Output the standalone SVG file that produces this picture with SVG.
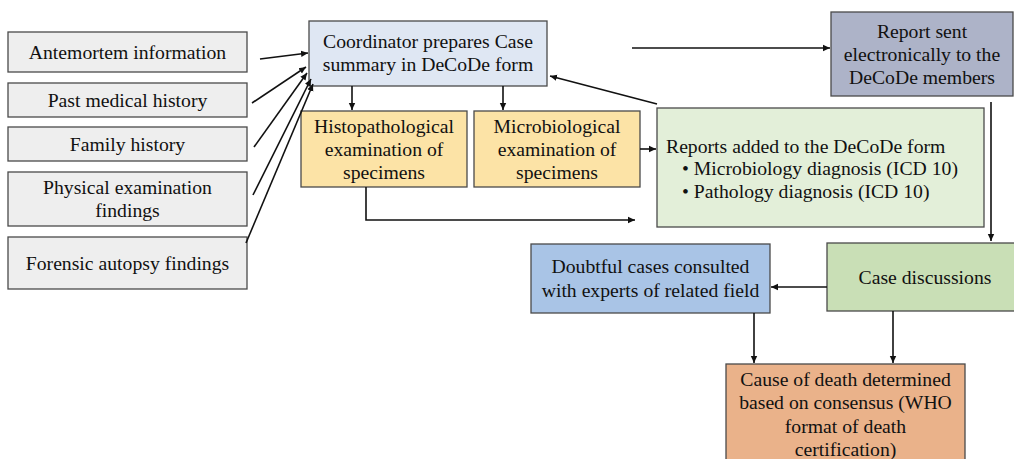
<svg xmlns="http://www.w3.org/2000/svg" width="1014" height="459" viewBox="0 0 1014 459">
<defs>
<marker id="ah" markerWidth="8" markerHeight="8" refX="7" refY="4" orient="auto" markerUnits="userSpaceOnUse">
<path d="M0,0.8 L7,4 L0,7.2 Z" fill="#111"/>
</marker>
</defs>
<style>
rect{stroke:#4a4a4a;stroke-width:1.3}
text{font-family:"Liberation Serif","Times New Roman",serif;font-size:19.7px;fill:#111;text-anchor:middle}
.l{text-anchor:start}
.c line,.c path,.c polyline{stroke:#111;stroke-width:1.6;fill:none;marker-end:url(#ah)}
.g{fill:#eeeeee}
</style>
<rect width="1014" height="459" fill="#fff" style="stroke:none"/>
<g id="n-antemortem"><rect class="g" x="8" y="32" width="239" height="40"/><text x="127.5" y="59">Antemortem information</text></g>
<g id="n-past"><rect class="g" x="8" y="83" width="239" height="34"/><text x="127.5" y="107">Past medical history</text></g>
<g id="n-family"><rect class="g" x="8" y="127" width="239" height="34"/><text x="127.5" y="151">Family history</text></g>
<g id="n-physical"><rect class="g" x="8" y="172" width="239" height="54"/><text x="127.5" y="194">Physical examination</text><text x="127.5" y="217">findings</text></g>
<g id="n-forensic"><rect class="g" x="8" y="237" width="239" height="52"/><text x="127.5" y="270">Forensic autopsy findings</text></g>
<g id="n-coord"><rect x="309" y="21" width="238" height="65" fill="#dfe7f3"/><text x="428" y="48">Coordinator prepares Case</text><text x="428" y="71">summary in DeCoDe form</text></g>
<g id="n-histo"><rect x="301" y="111" width="166" height="76" fill="#fce3a6"/><text x="384" y="133">Histopathological</text><text x="384" y="156">examination of</text><text x="384" y="179">specimens</text></g>
<g id="n-micro"><rect x="474" y="111" width="166" height="76" fill="#fce3a6"/><text x="557" y="133">Microbiological</text><text x="557" y="156">examination of</text><text x="557" y="179">specimens</text></g>
<g id="n-reports"><rect x="657" y="108" width="327" height="119" fill="#e3efd9"/><text class="l" x="666" y="153">Reports added to the DeCoDe form</text><text class="l" x="682" y="175">• Microbiology diagnosis (ICD 10)</text><text class="l" x="682" y="198">• Pathology diagnosis (ICD 10)</text></g>
<g id="n-sent"><rect x="831" y="12" width="182" height="84" fill="#adb3c8"/><text x="922" y="38">Report sent</text><text x="922" y="61">electronically to the</text><text x="922" y="84">DeCoDe members</text></g>
<g id="n-case"><rect x="827" y="243" width="190" height="68" fill="#c9dfb6"/><text x="925" y="284">Case discussions</text></g>
<g id="n-doubt"><rect x="531" y="244" width="239" height="69" fill="#a9c4e6"/><text x="650.5" y="273">Doubtful cases consulted</text><text x="650.5" y="297">with experts of related field</text></g>
<g id="n-cause"><rect x="726" y="364" width="239" height="100" fill="#eab28a"/><text x="845.5" y="386">Cause of death determined</text><text x="845.5" y="409">based on consensus (WHO</text><text x="845.5" y="433">format of death</text><text x="845.5" y="456">certification)</text></g>
<g id="connectors" class="c">
<line x1="260" y1="59" x2="308" y2="53"/>
<line x1="252" y1="103" x2="306" y2="67"/>
<line x1="254" y1="147" x2="307" y2="73"/>
<line x1="253" y1="195" x2="311" y2="79"/>
<line x1="246" y1="243" x2="313" y2="84"/>
<line x1="352" y1="86" x2="352" y2="110"/>
<line x1="503" y1="86" x2="503" y2="110"/>
<polyline points="366,187 366,220 635,220"/>
<line x1="640" y1="149" x2="656" y2="149"/>
<line x1="657" y1="104" x2="550" y2="76"/>
<line x1="632" y1="48" x2="830" y2="48"/>
<line x1="991" y1="102" x2="991" y2="241"/>
<line x1="827" y1="287" x2="771" y2="287"/>
<line x1="754" y1="313" x2="754" y2="363"/>
<line x1="893" y1="311" x2="893" y2="363"/>
</g>
</svg>
